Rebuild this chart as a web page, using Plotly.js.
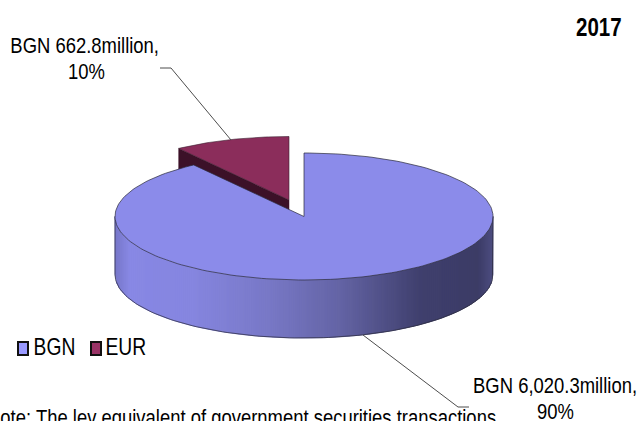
<!DOCTYPE html>
<html><head><meta charset="utf-8">
<script src="https://cdn.plot.ly/plotly-3.0.1.min.js"></script>
<style>html,body{margin:0;padding:0;background:#fff;overflow:hidden}</style>
</head><body><div id="chart" style="width:641px;height:421px"></div>
<script>
// data
const categories = ['BGN', 'EUR'];
const amounts = [6020.3, 662.8];
const shares = [90, 10];
const amountLabels = ['BGN 6,020.3million,', 'BGN 662.8million,'];
const yearLabel = '2017';
const noteText = 'Note: The lev equivalent of government securities transactions';

// drawing geometry and styles (in pixel-scaled axis units)
const W = 641, H = 421;
const RX = 189, RY = 63.5, DEPTH = 58;
const CENTRE_BGN = [304, 216.5], CENTRE_EUR = [289, 200];
const FONT = '"Liberation Sans",Arial,sans-serif';
const SQUEEZE = 0.82;
const BLUE_TOP = '#8b8bea', EUR_TOP = '#8b2d5b', EUR_WALL = '#3c1128', EDGE = '#2a2a3a';
const WALL_STOPS = [[115,[118,118,200]],[130,[136,136,228]],[190,[134,134,224]],[270,[120,120,198]],
  [340,[100,100,165]],[420,[64,64,110]],[478,[60,60,102]],[493,[76,76,128]]];

const total = amounts.reduce((a, b) => a + b, 0);
const eurAngle = amounts[1] / total * 2 * Math.PI;
const rim = (c, t) => [c[0] + RX * Math.sin(t), c[1] - RY * Math.cos(t)];
function arc(c, a0, a1, n) { const p = []; for (let i = 0; i <= n; i++) p.push(rim(c, a0 + (a1 - a0) * i / n)); return p; }
function poly(points, fill, line, width, name) {
  const closed = points.concat([points[0]]);
  return {type:'scatter', mode:'lines', x:closed.map(p=>p[0]), y:closed.map(p=>p[1]), fill:'toself', fillcolor:fill,
    line:{color:line, width:width}, hoverinfo:name?'name':'skip', name:name||'', showlegend:false};
}
function wallColour(x) {
  for (let i = 1; i < WALL_STOPS.length; i++) {
    const [x0,c0] = WALL_STOPS[i-1], [x1,c1] = WALL_STOPS[i];
    if (x <= x1) { const f = (x-x0)/(x1-x0); return 'rgb(' + c0.map((v,k)=>Math.round(v+(c1[k]-v)*f)).join(',') + ')'; }
  }
  return 'rgb(76,76,128)';
}
const traces = [];
// EUR slice: cut face, then top
const eurStart = rim(CENTRE_EUR, -eurAngle);
traces.push(poly([CENTRE_EUR, eurStart, [eurStart[0], eurStart[1]+DEPTH], [CENTRE_EUR[0], CENTRE_EUR[1]+DEPTH]], EUR_WALL, EUR_WALL, 0.5));
traces.push(poly([CENTRE_EUR].concat(arc(CENTRE_EUR, -eurAngle, 0, 40)), EUR_TOP, '#3a2030', 0.6, categories[1]));
// BGN outer wall as thin shaded strips
const left = CENTRE_BGN[0] - RX, right = CENTRE_BGN[0] + RX;
const rimY = x => CENTRE_BGN[1] + RY * Math.sqrt(Math.max(0, 1 - Math.pow((x - CENTRE_BGN[0]) / RX, 2)));
for (let x = left; x < right; x += 2) {
  const x2 = Math.min(x + 2, right), col = wallColour(x + 1);
  traces.push(poly([[x,rimY(x)],[x2,rimY(x2)],[x2,rimY(x2)+DEPTH],[x,rimY(x)+DEPTH]], col, col, 0.8));
}
// wall outline
const lower = arc(CENTRE_BGN, Math.PI/2, 3*Math.PI/2, 120).map(p=>[p[0],p[1]+DEPTH]);
const outline = [rim(CENTRE_BGN, Math.PI/2)].concat(lower, [rim(CENTRE_BGN, 3*Math.PI/2)]);
traces.push({type:'scatter', mode:'lines', x:outline.map(p=>p[0]), y:outline.map(p=>p[1]), line:{color:EDGE,width:0.7}, hoverinfo:'skip', showlegend:false});
// BGN top
traces.push(poly([CENTRE_BGN].concat(arc(CENTRE_BGN, 0, 2*Math.PI - eurAngle, 200)), BLUE_TOP, EDGE, 0.7, categories[0]));
// leader lines
const leaders = [[[160,171,231],[68,68,140]], [[469,458,363],[407,407,335]]];
leaders.forEach(l => traces.push({type:'scatter', mode:'lines', x:l[0], y:l[1], line:{color:'#4d4d4d',width:1}, hoverinfo:'skip', showlegend:false}));

const text = (s, x, y, size, bold) => ({text:bold?'<b>'+s+'</b>':s, x, y, xref:'x', yref:'y', xanchor:'center', yanchor:'middle',
  showarrow:false, font:{family:FONT, size, color:'#000'}, borderpad:0});
const annotations = [
  text(yearLabel, 599, 27, 25, true),
  text(amountLabels[1], 84, 45, 22.5),
  text(shares[1] + '%', 86, 71.5, 22.5),
  text(amountLabels[0], 555, 385, 22.5),
  text(shares[0] + '%', 555, 411.5, 22.5),
  text(categories[0], 54, 346.5, 23.5),
  text(categories[1], 126, 346.5, 23.5),
  text(noteText, 241.5, 417, 22.5)
];
const swatch = (x0, col) => ({type:'rect', xref:'x', yref:'y', x0, x1:x0+10, y0:342, y1:355, fillcolor:col, line:{color:'#111',width:2}});
const layout = {
  width:W, height:H, margin:{l:0,r:0,t:0,b:0}, paper_bgcolor:'#fff', plot_bgcolor:'#fff', showlegend:false,
  xaxis:{range:[0,W], visible:false, fixedrange:true},
  yaxis:{range:[H,0], visible:false, fixedrange:true},
  annotations, shapes:[swatch(18,'#9999ff'), swatch(91,'#993366')]
};
Plotly.newPlot('chart', traces, layout, {displayModeBar:false, staticPlot:true}).then(gd => {
  // the reference's lettering is horizontally condensed
  gd.querySelectorAll('.annotation-text').forEach(t => {
    const b = t.getBBox(), cx = b.x + b.width / 2;
    t.setAttribute('transform', 'translate(' + cx + ' 0) scale(' + SQUEEZE + ' 1) translate(' + (-cx) + ' 0)');
  });
});
</script></body></html>
